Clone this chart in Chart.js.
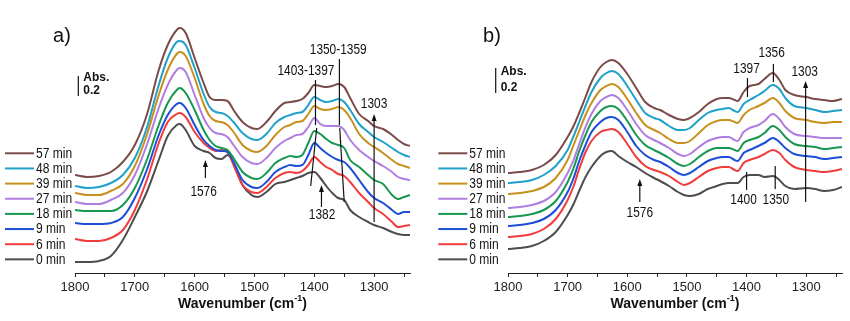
<!DOCTYPE html>
<html>
<head>
<meta charset="utf-8">
<script src="https://cdn.jsdelivr.net/npm/chart.js@4.4.1/dist/chart.umd.min.js"></script>
<style>
  html, body { margin: 0; padding: 0; background: #fff; }
  #wrap { display: flex; width: 850px; height: 321px; }
  .box { position: relative; width: 425px; height: 321px; }
</style>
</head>
<body>
<div id="wrap">
  <div class="box"><canvas id="chartA"></canvas></div>
  <div class="box"><canvas id="chartB"></canvas></div>
</div>
<script>
// series labels (top curve first) and x ticks
const times = ['57 min', '48 min', '39 min', '27 min', '18 min', '9 min', '6 min', '0 min'];
const xTicks = [1800, 1750, 1700, 1650, 1600, 1550, 1500, 1450, 1400, 1350, 1300, 1250];

// panel a) wavenumbers (cm-1) and stacked absorbance
const wnA = [1800,1780,1760,1740,1720,1700,1680,1660,1645,1630,1625,1615,1600,1585,1575,1565,1555,1545,1535,1520,1505,1495,1480,1465,1450,1440,1430,1420,1410,1400,1390,1380,1370,1360,1350,1340,1325,1310,1300,1285,1270,1260,1250,1240];
const a57 = [0.98,0.96,0.97,1.01,1.11,1.28,1.58,2.03,2.28,2.43,2.45,2.40,2.15,1.90,1.76,1.73,1.73,1.72,1.63,1.51,1.45,1.44,1.51,1.62,1.70,1.71,1.72,1.74,1.80,1.88,1.87,1.86,1.87,1.89,1.86,1.75,1.59,1.52,1.47,1.44,1.38,1.33,1.29,1.27];
const a48 = [0.87,0.85,0.86,0.90,0.98,1.15,1.45,1.88,2.15,2.31,2.32,2.28,2.05,1.79,1.66,1.61,1.60,1.57,1.51,1.40,1.34,1.33,1.39,1.50,1.56,1.58,1.60,1.61,1.68,1.76,1.73,1.71,1.72,1.74,1.71,1.63,1.49,1.41,1.36,1.31,1.25,1.21,1.18,1.16];
const a39 = [0.80,0.78,0.78,0.82,0.89,1.07,1.38,1.78,2.03,2.19,2.21,2.17,1.95,1.69,1.57,1.52,1.51,1.48,1.41,1.28,1.22,1.21,1.27,1.38,1.46,1.48,1.51,1.52,1.59,1.67,1.64,1.63,1.64,1.66,1.63,1.55,1.39,1.30,1.26,1.20,1.13,1.09,1.07,1.05];
const a27 = [0.71,0.69,0.69,0.73,0.80,0.98,1.28,1.65,1.88,2.03,2.05,2.01,1.78,1.55,1.45,1.40,1.39,1.36,1.28,1.16,1.10,1.09,1.15,1.25,1.32,1.35,1.38,1.39,1.46,1.55,1.49,1.47,1.47,1.47,1.43,1.33,1.23,1.16,1.12,1.07,1.01,0.96,0.94,0.93];
const a18 = [0.63,0.62,0.62,0.62,0.68,0.85,1.13,1.48,1.70,1.83,1.85,1.80,1.63,1.43,1.33,1.27,1.25,1.23,1.15,1.01,0.95,0.94,1.00,1.10,1.15,1.17,1.16,1.18,1.30,1.42,1.39,1.34,1.30,1.28,1.25,1.13,1.06,0.98,0.93,0.89,0.78,0.74,0.76,0.78];
const a9  = [0.50,0.49,0.49,0.50,0.56,0.75,1.03,1.38,1.58,1.69,1.70,1.65,1.48,1.33,1.27,1.23,1.22,1.21,1.11,0.93,0.86,0.85,0.91,1.01,1.06,1.08,1.07,1.08,1.18,1.30,1.25,1.20,1.16,1.13,1.11,1.05,0.93,0.81,0.75,0.70,0.63,0.59,0.61,0.61];
const a6  = [0.34,0.32,0.32,0.35,0.43,0.63,0.93,1.30,1.51,1.59,1.60,1.56,1.41,1.30,1.25,1.22,1.23,1.21,1.08,0.88,0.81,0.80,0.86,0.95,1.00,1.01,1.00,1.02,1.08,1.16,1.11,1.06,1.03,0.99,0.97,0.91,0.80,0.71,0.65,0.59,0.51,0.46,0.47,0.48];
const a0  = [0.11,0.11,0.12,0.17,0.33,0.56,0.81,1.13,1.37,1.48,1.49,1.43,1.27,1.22,1.20,1.15,1.14,1.18,1.10,0.88,0.78,0.76,0.81,0.89,0.91,0.93,0.95,0.97,1.00,1.01,0.95,0.87,0.80,0.75,0.73,0.63,0.56,0.51,0.48,0.45,0.41,0.39,0.38,0.38];

// panel b)
const wnB = [1800,1780,1760,1740,1720,1700,1690,1680,1670,1660,1645,1635,1626,1615,1600,1585,1570,1555,1545,1530,1515,1505,1495,1480,1465,1450,1440,1430,1420,1415,1405,1395,1380,1370,1356,1345,1335,1320,1300,1285,1270,1255,1240];
const b57 = [1.00,1.01,1.03,1.08,1.18,1.36,1.47,1.61,1.76,1.91,2.06,2.11,2.13,2.10,1.99,1.85,1.71,1.65,1.63,1.58,1.54,1.53,1.55,1.61,1.69,1.74,1.75,1.75,1.73,1.72,1.81,1.87,1.89,1.94,2.00,1.93,1.83,1.78,1.76,1.74,1.73,1.72,1.74];
const b48 = [0.90,0.91,0.93,0.98,1.07,1.23,1.37,1.52,1.67,1.81,1.95,2.00,2.02,1.99,1.87,1.73,1.60,1.55,1.53,1.47,1.43,1.43,1.45,1.53,1.60,1.63,1.64,1.65,1.62,1.61,1.69,1.73,1.78,1.82,1.88,1.84,1.75,1.67,1.65,1.63,1.61,1.62,1.63];
const b39 = [0.79,0.80,0.82,0.86,0.95,1.13,1.28,1.43,1.58,1.70,1.83,1.87,1.89,1.86,1.74,1.60,1.48,1.43,1.40,1.34,1.30,1.30,1.32,1.40,1.48,1.52,1.53,1.53,1.51,1.50,1.58,1.63,1.67,1.70,1.75,1.70,1.62,1.55,1.53,1.51,1.50,1.51,1.51];
const b27 = [0.65,0.66,0.68,0.72,0.81,1.00,1.13,1.30,1.46,1.59,1.72,1.76,1.78,1.75,1.63,1.49,1.38,1.33,1.30,1.25,1.19,1.17,1.19,1.26,1.32,1.35,1.36,1.36,1.33,1.32,1.41,1.45,1.48,1.52,1.59,1.54,1.46,1.39,1.37,1.36,1.35,1.35,1.35];
const b18 = [0.56,0.57,0.59,0.63,0.72,0.91,1.05,1.23,1.38,1.51,1.62,1.66,1.67,1.64,1.52,1.38,1.28,1.23,1.20,1.15,1.09,1.07,1.09,1.16,1.22,1.25,1.25,1.25,1.23,1.22,1.30,1.33,1.36,1.40,1.47,1.43,1.36,1.29,1.27,1.26,1.24,1.25,1.26];
const b9  = [0.47,0.48,0.50,0.54,0.63,0.81,0.95,1.13,1.28,1.41,1.51,1.55,1.56,1.53,1.41,1.27,1.18,1.13,1.11,1.06,1.00,0.98,1.00,1.06,1.12,1.15,1.16,1.16,1.13,1.12,1.20,1.23,1.27,1.30,1.35,1.31,1.25,1.19,1.17,1.16,1.14,1.15,1.16];
const b6  = [0.36,0.37,0.39,0.44,0.54,0.73,0.87,1.05,1.21,1.32,1.41,1.43,1.44,1.41,1.29,1.16,1.07,1.03,1.01,0.97,0.91,0.88,0.90,0.96,1.02,1.05,1.06,1.06,1.03,1.02,1.10,1.13,1.16,1.19,1.23,1.20,1.13,1.06,1.03,1.02,1.01,1.02,1.04];
const b0  = [0.24,0.25,0.27,0.32,0.41,0.58,0.69,0.83,0.96,1.06,1.17,1.21,1.22,1.17,1.11,1.06,1.00,0.95,0.92,0.87,0.81,0.78,0.77,0.79,0.84,0.87,0.89,0.90,0.90,0.90,0.96,0.98,0.98,0.96,0.97,0.93,0.87,0.84,0.85,0.84,0.82,0.83,0.86];

const colors = ['#7a4b48', '#1fa1c8', '#c8901c', '#b07ee0', '#17974f', '#1c4fd6', '#f03c3c', '#4d4d4d'];
const FONT = "'Liberation Sans', Arial, sans-serif";

// annotation marks: [label, wavenumber, absorbance] and line segments [wn1, abs1, wn2, abs2, arrowAtEnd]
const notesA = {
  texts: [['1403-1397', 1414, 2.02], ['1350-1359', 1360, 2.23], ['1303', 1300, 1.69], ['1576', 1585, 0.81], ['1382', 1387, 0.58]],
  lines: [[1398, 1.48, 1398, 1.93, false], [1406, 0.87, 1396, 1.45, false],
          [1358, 1.48, 1358, 2.14, false], [1350, 0.71, 1357.5, 1.45, false],
          [1300, 0.51, 1300, 1.59, true], [1582, 0.95, 1582, 1.13, true], [1388, 0.66, 1388, 0.88, true]]
};
const notesB = {
  texts: [['1397', 1400, 2.04], ['1356', 1358, 2.20], ['1303', 1302.5, 2.01], ['1400', 1405, 0.73], ['1350', 1351, 0.73], ['1576', 1579, 0.60]],
  lines: [[1398.5, 1.76, 1398.5, 1.95, false], [1355, 1.91, 1355, 2.09, false],
          [1301, 0.71, 1301, 1.92, true], [1400, 0.83, 1400, 1.01, false],
          [1352, 0.84, 1352, 1.07, false], [1579, 0.71, 1579, 0.94, true]]
};

// text squeezed horizontally, like the narrow face of the original figure
function narrowText(ctx, str, x, y, align, font, sx) {
  ctx.save();
  ctx.translate(x, y);
  ctx.scale(sx, 1);
  ctx.font = font;
  ctx.textAlign = align;
  ctx.fillText(str, 0, 0);
  ctx.restore();
}

const decor = {
  id: 'decor',
  afterDatasetsDraw(chart, args, o) {
    const ctx = chart.ctx, xs = chart.scales.x, ys = chart.scales.y;
    const X = v => xs.getPixelForValue(v), Y = v => ys.getPixelForValue(v);
    ctx.save();
    ctx.fillStyle = '#111';
    ctx.strokeStyle = '#111';
    ctx.textBaseline = 'middle';

    // panel tag
    narrowText(ctx, o.tag, o.tagX, 36, 'center', '20px ' + FONT, 1);

    // Abs. scale bar
    ctx.lineWidth = 1.2;
    ctx.beginPath();
    ctx.moveTo(o.barX, Y(o.bar[0]));
    ctx.lineTo(o.barX, Y(o.bar[1]));
    ctx.stroke();
    narrowText(ctx, 'Abs.', o.barX + 5, o.barText[0], 'left', 'bold 13px ' + FONT, 0.92);
    narrowText(ctx, '0.2', o.barX + 5, o.barText[1], 'left', 'bold 13px ' + FONT, 0.92);

    // legend
    times.forEach((t, i) => {
      const y = 153.3 + i * 15.15;
      ctx.strokeStyle = colors[i];
      ctx.lineWidth = 2;
      ctx.beginPath();
      ctx.moveTo(o.legX, y);
      ctx.lineTo(o.legX + 29, y);
      ctx.stroke();
      ctx.fillStyle = '#111';
      narrowText(ctx, t, o.legX + 31, y + 0.5, 'left', '14px ' + FONT, 0.86);
    });

    // annotation lines and arrows
    ctx.strokeStyle = '#111';
    ctx.fillStyle = '#111';
    ctx.lineWidth = 1.2;
    o.notes.lines.forEach(([w1, v1, w2, v2, arrow]) => {
      const x1 = X(w1), y1 = Y(v1), x2 = X(w2), y2 = Y(v2);
      ctx.beginPath();
      ctx.moveTo(x1, y1);
      ctx.lineTo(x2, arrow ? y2 + 5 : y2);
      ctx.stroke();
      if (arrow) {
        ctx.beginPath();
        ctx.moveTo(x2, y2);
        ctx.lineTo(x2 - 2.5, y2 + 7);
        ctx.lineTo(x2 + 2.5, y2 + 7);
        ctx.closePath();
        ctx.fill();
      }
    });
    o.notes.texts.forEach(([t, w, v]) => narrowText(ctx, t, X(w), Y(v), 'center', '14px ' + FONT, 0.85));

    // x axis title with superscript
    const cx = (chart.chartArea.left + chart.chartArea.right) / 2, ty = 304;
    ctx.textAlign = 'left';
    ctx.font = 'bold 14px ' + FONT;
    const main = 'Wavenumber (cm', close = ')';
    const w1 = ctx.measureText(main).width, w3 = ctx.measureText(close).width;
    ctx.font = 'bold 9px ' + FONT;
    const w2 = ctx.measureText('-1').width;
    const x0 = cx - (w1 + w2 + w3) / 2;
    ctx.font = 'bold 14px ' + FONT;
    ctx.fillText(main, x0, ty);
    ctx.font = 'bold 9px ' + FONT;
    ctx.fillText('-1', x0 + w1, ty - 5);
    ctx.font = 'bold 14px ' + FONT;
    ctx.fillText(close, x0 + w1 + w2, ty);
    ctx.restore();
  }
};

function makeChart(id, wn, series, pad, opts) {
  const datasets = series.map((arr, i) => ({
    label: times[i],
    data: wn.map((w, j) => ({ x: w, y: arr[j] })),
    borderColor: colors[i],
    borderWidth: 2,
    pointRadius: 0,
    fill: false,
    cubicInterpolationMode: 'monotone'
  }));
  return new Chart(document.getElementById(id), {
    type: 'line',
    data: { datasets },
    options: {
      responsive: true,
      maintainAspectRatio: false,
      animation: false,
      layout: { padding: pad },
      plugins: { legend: { display: false }, tooltip: { enabled: false }, decor: opts },
      scales: {
        x: {
          type: 'linear', reverse: true, min: 1240, max: 1800,
          afterBuildTicks: s => { s.ticks = xTicks.map(v => ({ value: v })); },
          afterFit: s => { s.height = 48; },
          border: { display: true, color: '#222', width: 1 },
          grid: { drawOnChartArea: false, drawTicks: true, tickLength: 4, color: '#222' },
          ticks: {
            autoSkip: false, maxRotation: 0, padding: 3, color: '#222',
            font: { family: FONT, size: 13 },
            callback: v => (v % 100 === 0 ? String(v) : '')
          }
        },
        y: { display: false, min: 0, max: 2.53 }
      }
    },
    plugins: [decor]
  });
}

makeChart('chartA', wnA, [a57, a48, a39, a27, a18, a9, a6, a0],
  { left: 75, right: 15, top: 20, bottom: 0 },
  { tag: 'a)', tagX: 62, barX: 78.3, bar: [1.77, 1.97], barText: [77.3, 90.7], legX: 5, notes: notesA });
makeChart('chartB', wnB, [b57, b48, b39, b27, b18, b9, b6, b0],
  { left: 83, right: 8, top: 20, bottom: 0 },
  { tag: 'b)', tagX: 67, barX: 70.7, bar: [1.80, 2.05], barText: [71.7, 87.3], legX: 13.3, notes: notesB });
</script>
</body>
</html>
